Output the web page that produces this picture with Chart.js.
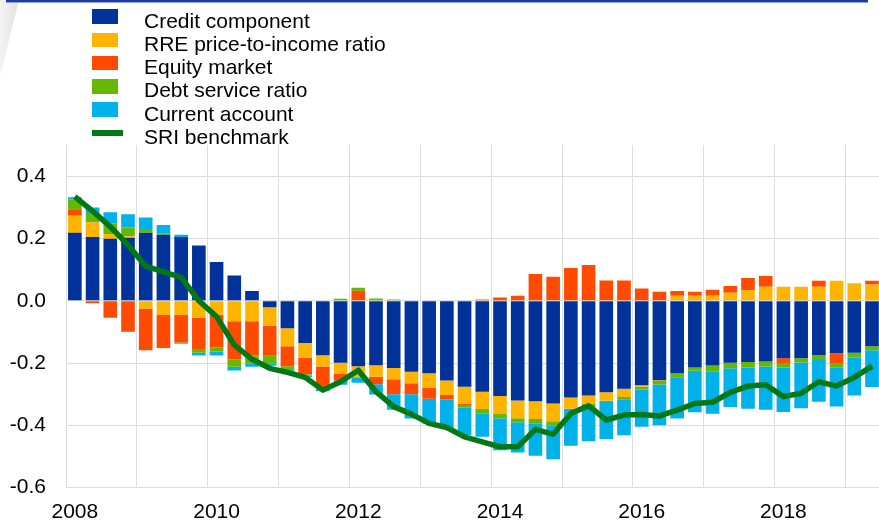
<!DOCTYPE html>
<html><head><meta charset="utf-8">
<script src="https://cdn.jsdelivr.net/npm/chart.js@4"></script>
<style>
html,body{margin:0;padding:0;background:#fff;overflow:hidden;}
#wrap{position:relative;width:879px;height:522px;overflow:hidden;background:#fff;}
#c{position:absolute;left:0;top:0;}
#wedge{position:absolute;left:0;top:0;width:19px;height:76px;clip-path:polygon(0 0,100% 0,0 100%);background:linear-gradient(to right,#f3f3f3,#e1e1e1);}
#rule{position:absolute;left:6px;top:0;width:862px;height:3px;background:linear-gradient(#1d3c9c 0,#1d3c9c 2px,#8ea3d8 2px,#8ea3d8 3px);}
#legend{position:absolute;left:0;top:0;width:879px;height:145px;font-family:'Liberation Sans',Arial,sans-serif;font-size:21px;color:#000;}
.sw{position:absolute;left:92px;}
.tx{position:absolute;left:144px;line-height:21px;white-space:nowrap;}
</style></head>
<body>
<div id="wrap">
  <div id="wedge"></div>
  <div id="rule"></div>
  <canvas id="c" width="884" height="522" style="width:884px;height:522px"></canvas>
  <div id="legend"></div>
</div>
<script>
// ---- data ----
const quarters = ['2008Q1','2008Q2','2008Q3','2008Q4','2009Q1','2009Q2','2009Q3','2009Q4',
  '2010Q1','2010Q2','2010Q3','2010Q4','2011Q1','2011Q2','2011Q3','2011Q4',
  '2012Q1','2012Q2','2012Q3','2012Q4','2013Q1','2013Q2','2013Q3','2013Q4',
  '2014Q1','2014Q2','2014Q3','2014Q4','2015Q1','2015Q2','2015Q3','2015Q4',
  '2016Q1','2016Q2','2016Q3','2016Q4','2017Q1','2017Q2','2017Q3','2017Q4',
  '2018Q1','2018Q2','2018Q3','2018Q4','2019Q1','2019Q2'];
const xTickLabels = ['2008','2010','2012','2014','2016','2018'];
const yTicks = [-0.6,-0.4,-0.2,0,0.2,0.4];
const seriesNames = ['Credit component','RRE price-to-income ratio','Equity market','Debt service ratio','Current account','SRI benchmark'];

const credit = [0.218,0.205,0.199,0.202,0.218,0.212,0.205,0.177,0.124,0.081,0.031,-0.021,
  -0.088,-0.136,-0.175,-0.199,-0.210,-0.207,-0.216,-0.228,-0.233,-0.256,-0.276,-0.292,
  -0.306,-0.320,-0.323,-0.330,-0.311,-0.304,-0.294,-0.283,-0.271,-0.255,-0.233,-0.214,
  -0.208,-0.199,-0.197,-0.195,-0.185,-0.185,-0.175,-0.169,-0.167,-0.146];
const rre = [0.055,0.046,0.015,0.005,-0.026,-0.046,-0.046,-0.055,-0.045,-0.066,-0.066,-0.059,
  -0.058,-0.046,-0.036,-0.036,-0.036,-0.037,-0.036,-0.037,-0.046,-0.047,-0.055,-0.056,
  -0.058,-0.057,-0.057,-0.057,-0.036,-0.026,-0.027,-0.026,-0.005,-0.003,0.016,0.016,
  0.016,0.026,0.034,0.045,0.045,0.045,0.045,0.064,0.056,0.052];
const equity = [0.021,-0.008,-0.055,-0.100,-0.133,-0.106,-0.088,-0.100,-0.104,-0.122,-0.110,-0.097,
  -0.064,-0.054,-0.075,-0.021,0.032,-0.024,-0.048,-0.035,-0.036,-0.013,-0.004,0.004,
  0.010,0.016,0.086,0.077,0.105,0.115,0.065,0.065,0.039,0.029,0.015,0.013,
  0.019,0.021,0.039,0.034,-0.015,0,0.019,-0.031,0,0.012];
const dsr = [0.032,0.031,0.035,0.028,0.012,0.003,-0.004,-0.012,-0.014,-0.024,-0.025,-0.024,
  -0.013,-0.004,0,0.006,0.010,0.007,0.004,0,0,-0.003,-0.008,-0.015,
  -0.013,-0.013,-0.013,-0.013,0,-0.005,-0.004,-0.007,-0.009,-0.011,-0.013,-0.011,
  -0.020,-0.018,-0.017,-0.016,-0.014,-0.013,-0.015,-0.015,-0.015,-0.013];
const currentAccount = [0.006,0.017,0.035,0.043,0.037,0.028,0.007,-0.009,-0.013,-0.012,-0.011,-0.008,
  -0.005,-0.006,-0.005,-0.014,-0.017,-0.033,-0.050,-0.078,-0.079,-0.091,-0.089,-0.074,
  -0.103,-0.097,-0.105,-0.109,-0.119,-0.116,-0.119,-0.116,-0.120,-0.131,-0.132,-0.133,
  -0.135,-0.124,-0.133,-0.139,-0.143,-0.147,-0.134,-0.125,-0.122,-0.118];
const sri = [0.334,0.288,0.238,0.179,0.111,0.093,0.075,0.000,-0.051,-0.142,-0.188,-0.217,
  -0.230,-0.246,-0.287,-0.260,-0.223,-0.292,-0.340,-0.364,-0.394,-0.407,-0.437,-0.453,
  -0.469,-0.469,-0.413,-0.429,-0.362,-0.337,-0.383,-0.367,-0.365,-0.370,-0.351,-0.330,
  -0.326,-0.294,-0.274,-0.270,-0.308,-0.297,-0.260,-0.274,-0.246,-0.210];

const colors = ['#003299','#FFB400','#FF4B00','#65B800','#00B1EA','#007816'];

// ---- legend (HTML, built from names/colours) ----
const leg = document.getElementById('legend');
seriesNames.forEach((name, i) => {
  const sw = document.createElement('div');
  sw.className = 'sw';
  if (i < 5) {
    sw.style.top = (9.3 + 23.25 * i) + 'px';
    sw.style.width = '26px'; sw.style.height = '14.7px';
  } else {
    sw.style.top = '130.3px';
    sw.style.width = '31px'; sw.style.height = '5.4px';
  }
  sw.style.background = colors[i];
  leg.appendChild(sw);
  const tx = document.createElement('div');
  tx.className = 'tx';
  tx.style.top = (9.5 + 23.25 * i) + 'px';
  tx.textContent = name;
  leg.appendChild(tx);
});

// ---- chart ----
const barSeries = [credit, rre, equity, dsr, currentAccount];
const datasets = barSeries.map((d, i) => ({
  type: 'bar', label: seriesNames[i], data: d, backgroundColor: colors[i],
  borderWidth: 0, barPercentage: 0.77, categoryPercentage: 1.0, order: 1
}));
datasets.push({
  type: 'line', label: seriesNames[5], data: sri, borderColor: colors[5],
  backgroundColor: colors[5], borderWidth: 5.5, pointRadius: 0, tension: 0,
  borderJoinStyle: 'round', fill: false, order: 0
});

const FONT = {family: "'Liberation Sans', Arial, sans-serif", size: 21};
const GRID = '#dcdcdc';

new Chart(document.getElementById('c'), {
  data: {labels: quarters, datasets},
  options: {
    responsive: false, animation: false, devicePixelRatio: 1,
    layout: {padding: {top: 145, left: 0, right: 0, bottom: 0}},
    plugins: {legend: {display: false}, tooltip: {enabled: false}},
    scales: {
      x: {
        stacked: true, offset: true,
        grid: {offset: true, drawTicks: false, lineWidth: 1,
          color: (ctx) => (ctx.index % 4 === 0 ? GRID : 'rgba(0,0,0,0)')},
        border: {display: true, color: GRID},
        ticks: {autoSkip: false, maxRotation: 0, minRotation: 0, padding: 12,
          color: '#000', font: FONT,
          callback: (v, i) => (i % 8 === 0 ? xTickLabels[i / 8] : '')},
        afterFit: (s) => { s.height = 34.4; }
      },
      y: {
        stacked: true, min: -0.6, max: 0.5,
        grid: {drawTicks: false, color: GRID, lineWidth: 1},
        border: {display: true, color: GRID},
        afterBuildTicks: (s) => { s.ticks = yTicks.map(v => ({value: v})); },
        ticks: {padding: 20, color: '#000', font: FONT,
          callback: (v) => Number(v).toFixed(1)},
        afterFit: (s) => { s.width = 66; }
      }
    }
  }
});
</script>
</body></html>
